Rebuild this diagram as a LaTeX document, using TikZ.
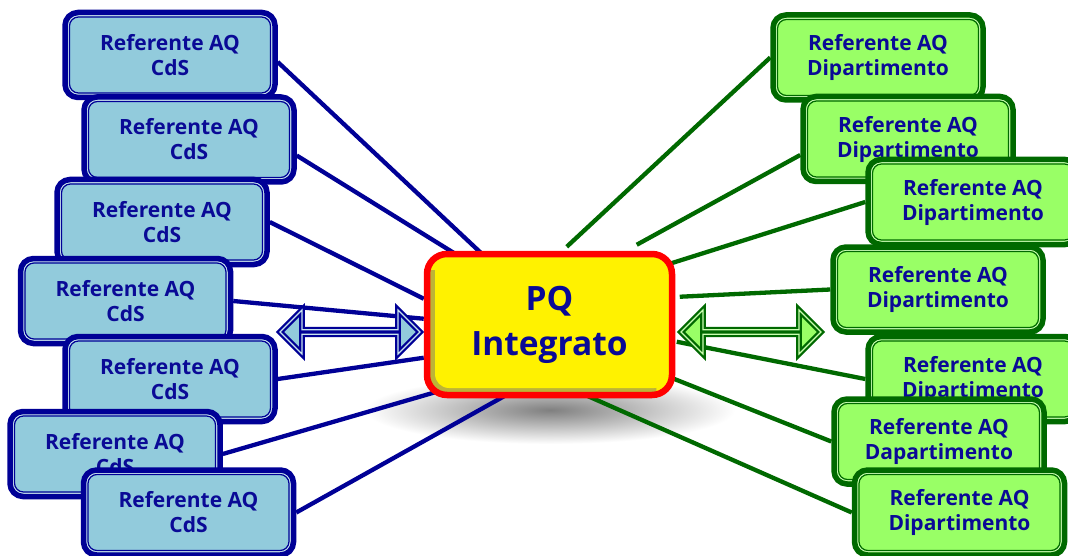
\documentclass[tikz,border=0pt]{standalone}
\usepackage{fontspec}
\setmainfont{Open Sans}
\usetikzlibrary{shapes.arrows,calc,backgrounds}
\definecolor{navy}{RGB}{10,10,150}
\definecolor{bdark}{RGB}{0,0,150}
\definecolor{bfill}{RGB}{146,203,220}
\definecolor{gdark}{RGB}{0,105,0}
\definecolor{gfill}{RGB}{153,255,102}
\tikzset{
  box/.style={rounded corners=13pt, minimum width=210pt, minimum height=85pt,
    line width=5.5pt, align=center, inner sep=0pt, text=navy,
    font=\bfseries\fontsize{21}{25}\selectfont},
  lbox/.style={box, draw=bdark, fill=bfill,
    path picture={
      \draw[white!55!bfill, line width=1.2pt, rounded corners=10pt]
        ([shift={(3.3pt,-3.3pt)}]path picture bounding box.north west) rectangle
        ([shift={(-3.3pt,3.3pt)}]path picture bounding box.south east);
      \draw[bdark, line width=1.2pt, rounded corners=9pt]
        ([shift={(4.5pt,-4.5pt)}]path picture bounding box.north west) rectangle
        ([shift={(-4.5pt,4.5pt)}]path picture bounding box.south east);}},
  rbox/.style={box, draw=gdark, fill=gfill,
    path picture={
      \draw[white!55!gfill, line width=1.2pt, rounded corners=10pt]
        ([shift={(3.3pt,-3.3pt)}]path picture bounding box.north west) rectangle
        ([shift={(-3.3pt,3.3pt)}]path picture bounding box.south east);
      \draw[gdark, line width=1.2pt, rounded corners=9pt]
        ([shift={(4.5pt,-4.5pt)}]path picture bounding box.north west) rectangle
        ([shift={(-4.5pt,4.5pt)}]path picture bounding box.south east);}},
  hub/.style={draw=red, fill=yellow, line width=6.5pt, rounded corners=20pt,
    minimum width=245pt, minimum height=141pt, align=center, inner sep=0pt,
    text=navy, font=\bfseries\fontsize{33.5}{45}\selectfont,
    path picture={
      \draw[yellow!35!black, line width=18pt, rounded corners=18pt]
        ([yshift=-16pt]path picture bounding box.north west) --
        (path picture bounding box.south west) --
        ([xshift=-16pt]path picture bounding box.south east);
      \draw[yellow!70!black, line width=22pt, rounded corners=18pt]
        ([yshift=-16pt]path picture bounding box.north west) ++(3pt,0) --
        ([xshift=3pt,yshift=3pt]path picture bounding box.south west) --
        ([xshift=-16pt,yshift=3pt]path picture bounding box.south east);
      \fill[yellow, rounded corners=14pt]
        ([shift={(8pt,-4pt)}]path picture bounding box.north west) rectangle
        ([shift={(-4pt,7pt)}]path picture bounding box.south east);}},
  darr/.style={double arrow, minimum height=140pt, minimum width=44pt,
    double arrow head extend=10pt, inner sep=0pt, line width=2.3pt,
    double distance=1.2pt},
  lline/.style={bdark, line width=4.3pt},
  rline/.style={gdark, line width=4.3pt},
}
\begin{document}
\begin{tikzpicture}[x=1pt,y=-1pt]
\useasboundingbox (0,0) rectangle (1068,556);
% hub
\node[hub] (c) at (549.5,324.5) {PQ\\Integrato};
% left boxes
\node[lbox] (l1) at (170,55) {Referente AQ\\CdS};
\node[lbox] (l2) at (189,139.5) {Referente AQ\\CdS};
\node[lbox] (l3) at (162,222) {Referente AQ\\CdS};
\node[lbox] (l4) at (125.5,301) {Referente AQ\\CdS};
\node[lbox] (l5) at (170,379) {Referente AQ\\CdS};
\node[lbox] (l6) at (115,454) {Referente AQ\\CdS};
\node[lbox] (l7) at (188.5,512.5) {Referente AQ\\CdS};
% right boxes
\node[rbox] (r1) at (878,57.5) {Referente AQ\\Dipartimento};
\node[rbox] (r2) at (908,139) {Referente AQ\\Dipartimento};
\node[rbox] (r3) at (973,202) {Referente AQ\\Dipartimento};
\node[rbox] (r4) at (938,289.5) {Referente AQ\\Dipartimento};
\node[rbox] (r5) at (973,379) {Referente AQ\\Dipartimento};
\node[rbox] (r6) at (939,441.5) {Referente AQ\\Dapartimento};
\node[rbox] (r7) at (959.5,512.5) {Referente AQ\\Dipartimento};
% arrows
\node[darr, draw=bdark, double=white!50!bfill, fill=bfill] (al) at (350,332) {};
\node[darr, draw=gdark, double=white!50!gfill, fill=gfill] (ar) at (751,332) {};
% background, shadow and connectors
\begin{scope}[on background layer]
\fill[white] (0,0) rectangle (1068,556);
\shade[inner color=black!50, outer color=white] (550,410) ellipse [x radius=185, y radius=34];
\draw[lline] ($(l1.east)+(0,7)$) -- ($(c.north west)+(57,2)$);
\draw[lline] ($(l2.east)+(0,16)$) -- ($(c.north west)+(33,4)$);
\draw[lline] (l3.east) -- ($(c.north west)+(0,48)$);
\draw[lline] (l4.east) -- ($(c.north west)+(0,68)$);
\draw[lline] (l5.east) -- ($(c.north west)+(0,107)$);
\draw[lline] (l6.east) -- ($(c.north west)+(20,139)$);
\draw[lline] (l7.east) -- ($(c.north west)+(83,144)$);
\draw[rline] (r1.west) -- ($(c.north west)+(143,-4)$);
\draw[rline] ($(r2.west)+(0,16)$) -- ($(c.north west)+(213,-6)$);
\draw[rline] (r3.west) -- ($(c.north west)+(246,13)$);
\draw[rline] (r4.west) -- ($(c.north west)+(256,46)$);
\draw[rline] (r5.west) -- ($(c.north west)+(253,91)$);
\draw[rline] (r6.west) -- ($(c.north west)+(245,126)$);
\draw[rline] (r7.west) -- ($(c.north west)+(161,144)$);
\end{scope}
\end{tikzpicture}
\end{document}
